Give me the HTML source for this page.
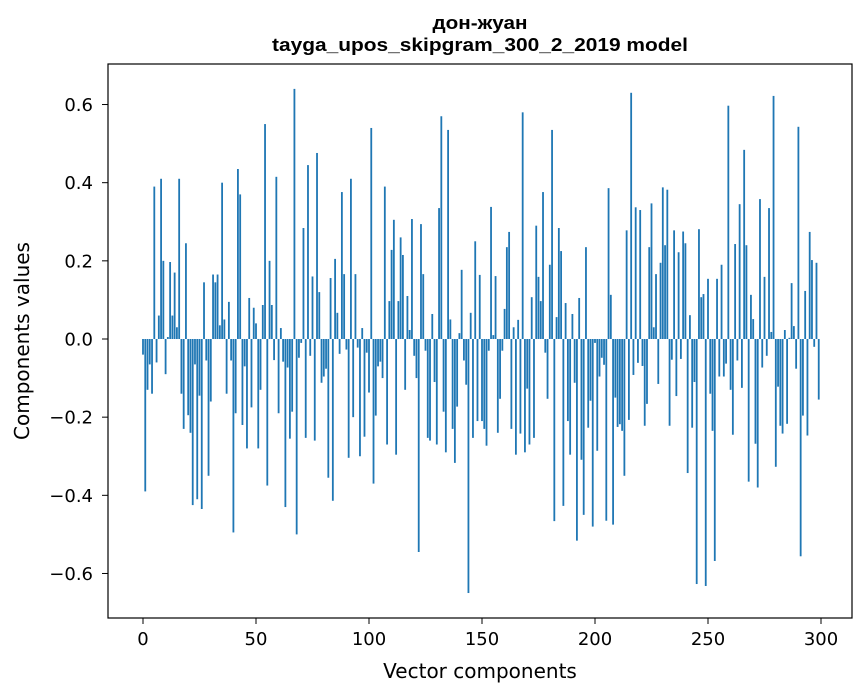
<!DOCTYPE html>
<html><head><meta charset="utf-8"><style>
html,body{margin:0;padding:0;background:#fff;}
svg{display:block;font-family:"DejaVu Sans","Liberation Sans",sans-serif;}
</style></head><body>
<svg id="chart" width="867" height="696" viewBox="0 0 867 696" xmlns="http://www.w3.org/2000/svg">
<rect width="867" height="696" fill="#fff"/>
<text x="480" y="29" text-anchor="middle" font-size="18" font-weight="bold" font-family="Liberation Sans, Arial, sans-serif" textLength="95" lengthAdjust="spacingAndGlyphs">дон-жуан</text>
<text x="480" y="51" text-anchor="middle" font-size="18" font-weight="bold" font-family="Liberation Sans, Arial, sans-serif" textLength="416" lengthAdjust="spacingAndGlyphs">tayga_upos_skipgram_300_2_2019 model</text>
<g id="bars"></g>
<g id="axes"></g>
<rect x="108" y="64" width="744" height="554" fill="none" stroke="#000" stroke-width="1.2"/>
<text x="480" y="678" text-anchor="middle" font-size="20">Vector components</text>
<text transform="translate(29,341) rotate(-90)" text-anchor="middle" font-size="20">Components values</text>
</svg>
<script>
const values = [
-0.04,-0.39,-0.13,-0.065,-0.14,0.39,-0.06,0.06,0.41,0.20,
-0.09,0.005,0.197,0.06,0.17,0.03,0.41,-0.14,-0.23,0.245,
-0.195,-0.24,-0.425,-0.065,-0.41,-0.145,-0.435,0.145,-0.055,-0.35,
-0.16,0.165,0.145,0.165,0.035,0.40,0.05,-0.14,0.095,-0.055,
-0.495,-0.19,0.435,0.37,-0.22,-0.07,-0.28,0.105,-0.175,0.08,
0.04,-0.28,-0.13,0.087,0.55,-0.375,0.2,0.087,-0.054,0.415,
-0.19,0.028,-0.058,-0.43,-0.073,-0.255,-0.186,0.64,-0.50,-0.048,
-0.01,0.284,-0.253,0.445,-0.043,0.16,-0.26,0.476,0.12,-0.112,
-0.096,-0.076,-0.355,0.156,-0.414,0.205,0.067,-0.038,0.376,0.166,
-0.027,-0.304,0.41,-0.2,0.166,-0.022,-0.3,0.028,-0.25,-0.035,
-0.137,0.54,-0.37,-0.196,-0.07,-0.058,-0.1,0.39,-0.27,0.097,
0.228,0.305,-0.296,0.097,0.26,0.215,-0.13,0.11,0.023,0.307,
-0.043,-0.1,-0.545,0.294,0.166,-0.03,-0.253,-0.26,0.064,-0.11,
-0.27,0.335,0.57,-0.186,-0.29,0.535,0.05,-0.23,-0.317,-0.173,
0.015,0.177,-0.055,-0.117,-0.65,0.067,-0.253,0.25,-0.21,0.164,
-0.21,-0.23,-0.273,-0.03,0.338,0.01,0.161,-0.24,-0.153,-0.03,
0.077,0.235,0.274,-0.23,0.03,-0.296,0.049,-0.242,0.58,-0.29,
-0.127,-0.27,0.107,-0.253,0.29,0.159,0.097,0.376,-0.035,-0.153,
0.19,0.535,-0.466,0.056,0.284,0.225,-0.427,0.092,-0.21,-0.296,
0.064,-0.112,-0.516,0.105,-0.309,-0.45,0.235,-0.227,-0.158,-0.48,
-0.01,-0.286,-0.096,-0.048,-0.066,-0.465,0.386,0.113,-0.475,-0.15,
-0.225,-0.218,-0.235,-0.35,0.278,-0.207,0.63,-0.092,0.337,-0.061,
0.33,-0.069,-0.222,-0.166,0.235,0.347,0.03,0.166,-0.115,0.195,
0.388,0.24,0.382,-0.222,-0.053,0.278,-0.146,0.222,-0.051,0.275,
0.245,-0.343,0.061,-0.227,-0.11,-0.627,0.281,0.107,0.115,-0.632,
0.154,-0.14,-0.235,-0.568,0.154,-0.096,0.19,-0.096,-0.063,0.597,
-0.13,-0.245,0.243,-0.055,0.345,-0.125,0.484,0.24,-0.365,0.113,
0.051,-0.268,-0.38,0.358,-0.073,0.159,-0.043,0.335,0.018,0.622,
-0.327,-0.122,-0.222,-0.242,0.023,-0.217,0.003,0.143,0.033,-0.076,
0.543,-0.556,-0.196,0.123,-0.247,0.274,0.202,-0.02,0.195,-0.155
];
const xTicks = [0,50,100,150,200,250,300];
const yTicks = [-0.6,-0.4,-0.2,0.0,0.2,0.4,0.6];
const yTickLabels = ["\u22120.6","\u22120.4","\u22120.2","0.0","0.2","0.4","0.6"];

const NS = "http://www.w3.org/2000/svg";
function xs(v){ return 143 + 2.26*v; }
function ys(v){ return 339 - 390.8*v; }
const barsG = document.getElementById('bars');
values.forEach(function(v,i){
  const r = document.createElementNS(NS,'rect');
  const x0 = xs(i-0.4), x1 = xs(i+0.4);
  const y0 = Math.min(ys(v), ys(0)), y1 = Math.max(ys(v), ys(0));
  r.setAttribute('x', x0); r.setAttribute('width', x1-x0);
  r.setAttribute('y', y0); r.setAttribute('height', Math.max(y1-y0,0.3));
  r.setAttribute('fill', '#1f77b4');
  
  
  barsG.appendChild(r);
});
const axesG = document.getElementById('axes');
xTicks.forEach(function(t){
  const l = document.createElementNS(NS,'line');
  l.setAttribute('x1', xs(t)); l.setAttribute('x2', xs(t));
  l.setAttribute('y1', 618); l.setAttribute('y2', 624);
  l.setAttribute('stroke', '#000');
  
  
  axesG.appendChild(l);
  const tx = document.createElementNS(NS,'text');
  tx.setAttribute('x', xs(t)); tx.setAttribute('y', 645);
  tx.setAttribute('text-anchor', 'middle'); tx.setAttribute('font-size', '18');
  tx.textContent = String(t);
  
  
  axesG.appendChild(tx);
});
yTicks.forEach(function(t,k){
  const l = document.createElementNS(NS,'line');
  l.setAttribute('x1', 102); l.setAttribute('x2', 108);
  l.setAttribute('y1', ys(t)); l.setAttribute('y2', ys(t));
  l.setAttribute('stroke', '#000');
  
  
  axesG.appendChild(l);
  const tx = document.createElementNS(NS,'text');
  tx.setAttribute('x', 93); tx.setAttribute('y', ys(t)+6.5);
  tx.setAttribute('text-anchor', 'end'); tx.setAttribute('font-size', '18');
  tx.textContent = yTickLabels[k];
  
  
  axesG.appendChild(tx);
});
</script>
</body></html>
